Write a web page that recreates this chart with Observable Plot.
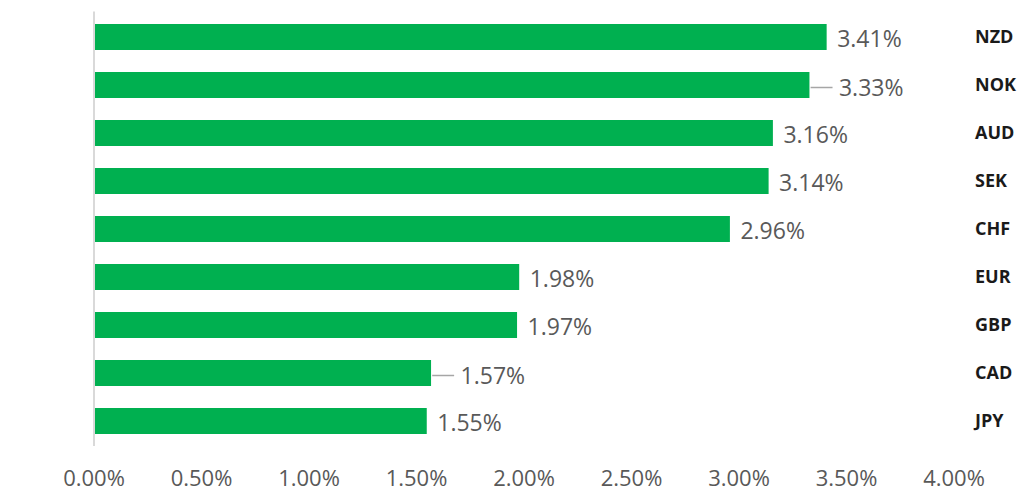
<!DOCTYPE html>
<html>
<head>
<meta charset="utf-8">
<script src="https://cdn.jsdelivr.net/npm/d3@7"></script>
<script src="https://cdn.jsdelivr.net/npm/@observablehq/plot@0.6"></script>
<style>
  html, body { margin: 0; padding: 0; background: #fff; }
</style>
</head>
<body>
<div id="chart"></div>
<script>
const categories = ["NZD", "NOK", "AUD", "SEK", "CHF", "EUR", "GBP", "CAD", "JPY"];
const values = [0.0341, 0.0333, 0.0316, 0.0314, 0.0296, 0.0198, 0.0197, 0.0157, 0.0155];
const tickValues = [0, 0.005, 0.01, 0.015, 0.02, 0.025, 0.03, 0.035, 0.04];
const leaderCategories = ["NOK", "CAD"];

const data = categories.map((c, i) => ({cat: c, value: values[i], leader: leaderCategories.includes(c)}));
const fmt = d3.format(".2%");
const font = "'Open Sans', 'Noto Sans', sans-serif";

const chart = Plot.plot({
  width: 1022,
  height: 498,
  marginTop: 11.5,
  marginBottom: 52,
  marginLeft: 93,
  marginRight: 67,
  style: {fontFamily: font, background: "#fff"},
  x: {domain: [0, 0.04], range: [93.5, 953.5]},
  y: {domain: categories, range: [11.5, 446], paddingInner: 0.46, paddingOuter: 0.25, axis: null},
  marks: [
    Plot.barX(data, {x1: 0, x2: "value", y: "cat", fill: "#00B050", insetLeft: 1}),
    Plot.ruleX([0], {stroke: "#d9d9d9", strokeWidth: 2}),
    Plot.link(data.filter(d => d.leader), {
      x1: d => d.value + 0.00003, x2: d => d.value + 0.00105,
      y1: "cat", y2: "cat", dy: 2, stroke: "#a6a6a6", strokeWidth: 1.5
    }),
    Plot.text(data.filter(d => !d.leader), {
      x: "value", y: "cat", text: d => fmt(d.value), dx: 10, dy: 2,
      textAnchor: "start", fontSize: 23, fill: "#595959"
    }),
    Plot.text(data.filter(d => d.leader), {
      x: "value", y: "cat", text: d => fmt(d.value), dx: 29, dy: 3,
      textAnchor: "start", fontSize: 23, fill: "#595959"
    }),
    Plot.text(data, {
      x: () => 0.04, y: "cat", text: "cat", dx: 21,
      textAnchor: "start", fontSize: 18, fontWeight: "bold", fill: "#1a1a1a"
    }),
    Plot.axisX(tickValues, {
      tickSize: 0, tickPadding: 24, tickFormat: fmt,
      fontSize: 22, fill: "#595959", label: null
    })
  ]
});
document.getElementById("chart").appendChild(chart);
</script>
</body>
</html>
